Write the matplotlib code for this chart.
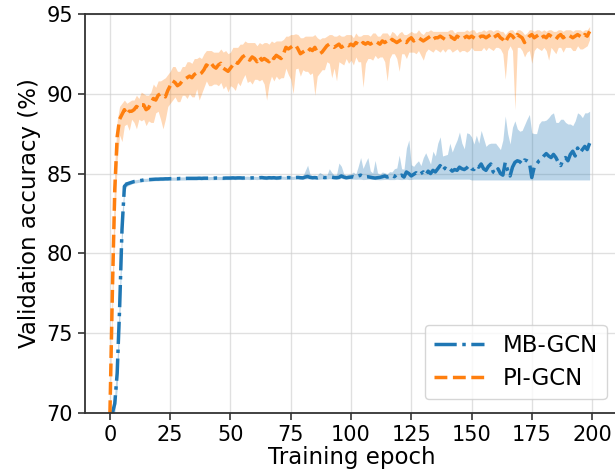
import numpy as np
import matplotlib
matplotlib.use("Agg")
import matplotlib.pyplot as plt

# validation accuracy per epoch (mean over runs) and band gaps below / above the mean
epochs = np.arange(200)

pi_mean = [
    70.0, 77.5, 84.0, 87.3, 88.4, 88.7, 89.0, 88.7, 88.9, 88.9,
    89.0, 89.2, 89.1, 89.3, 89.3, 89.0, 89.1, 89.4, 89.7, 89.6,
    89.9, 90.0, 89.9, 89.8, 90.2, 90.5, 90.8, 90.7, 90.5, 90.6,
    90.8, 90.9, 91.0, 91.1, 91.0, 91.2, 91.3, 91.2, 91.3, 91.5,
    91.8, 91.7, 91.9, 91.7, 91.6, 91.8, 91.9, 91.6, 91.5, 91.4,
    91.6, 91.8, 92.0, 91.9, 92.1, 92.3, 92.4, 92.2, 92.1, 92.3,
    92.2, 92.0, 92.3, 92.1, 92.2, 92.1, 92.0, 92.3, 92.2, 92.4,
    92.3, 92.2, 92.5, 92.9, 92.8, 92.9, 93.0, 93.05, 92.8, 92.5,
    92.6, 92.7, 92.6, 92.8, 92.7, 92.9, 92.6, 92.5, 92.6, 92.8,
    93.0, 93.1, 93.0, 92.9, 93.0, 93.1, 92.9, 93.0, 93.1, 93.0,
    93.1, 93.0, 93.2, 93.1, 93.0, 93.2, 93.1, 93.2, 93.1, 93.2,
    93.3, 93.2, 93.1, 93.3, 93.2, 93.3, 93.2, 93.4, 93.3, 93.2,
    93.3, 93.4, 93.3, 93.2, 93.4, 93.5, 93.3, 93.4, 93.5, 93.4,
    93.3, 93.4, 93.5, 93.6, 93.4, 93.5, 93.5, 93.6, 93.5, 93.4,
    93.5, 93.6, 93.5, 93.4, 93.6, 93.5, 93.4, 93.5, 93.6, 93.5,
    93.6, 93.5, 93.4, 93.5, 93.6, 93.6, 93.5, 93.6, 93.7, 93.5,
    93.6, 93.7, 93.5, 93.4, 93.2, 93.5, 93.7, 93.6, 93.4, 93.7,
    93.6, 93.5, 93.2, 93.4, 93.6, 93.7, 93.5, 93.6, 93.7, 93.5,
    93.6, 93.5, 93.7, 93.6, 93.5, 93.4, 93.6, 93.7, 93.5, 93.6,
    93.7, 93.6, 93.5, 93.6, 93.7, 93.6, 93.5, 93.7, 93.6, 93.9,
]
pi_lo_gap = [
    0.3, 1.5, 2.5, 1.5, 1.0, 1.7, 1.0, 0.6, 1.2, 0.5,
    0.8, 1.4, 0.7, 1.0, 0.9, 1.0, 0.8, 1.2, 1.5, 0.8,
    1.0, 1.6, 2.1, 1.4, 1.0, 1.1, 1.2, 0.9, 1.0, 1.1,
    0.9, 1.0, 1.3, 1.1, 1.2, 1.4, 1.0, 1.6, 1.3, 1.1,
    1.0, 1.2, 1.4, 1.1, 1.0, 1.3, 1.2, 1.3, 1.0, 1.3,
    1.1, 1.4, 1.8, 1.2, 1.6, 1.4, 1.2, 1.5, 1.3, 1.7,
    1.3, 1.1, 1.5, 1.2, 1.6, 2.5, 1.4, 1.2, 1.4, 1.3,
    1.4, 1.2, 1.5, 1.3, 1.6, 2.0, 3.0, 1.5, 1.2, 1.4,
    1.1, 1.3, 1.2, 1.6, 1.4, 3.0, 1.5, 1.2, 1.1, 1.3,
    1.0, 1.2, 2.0, 1.3, 2.2, 1.1, 1.0, 1.2, 0.9, 1.1,
    1.0, 1.2, 0.9, 1.1, 1.0, 2.8, 1.2, 1.0, 0.9, 1.1,
    0.9, 1.0, 0.8, 1.0, 1.2, 2.5, 1.0, 0.9, 0.8, 1.0,
    1.9, 0.9, 0.8, 1.0, 0.8, 0.9, 0.7, 0.9, 0.8, 1.0,
    1.2, 0.8, 0.7, 0.9, 0.8, 0.7, 0.8, 1.0, 0.7, 0.8,
    0.7, 0.8, 0.9, 0.7, 0.8, 0.9, 0.7, 0.8, 1.0, 0.8,
    0.7, 0.8, 0.7, 0.8, 0.9, 0.7, 0.8, 0.7, 0.9, 0.8,
    0.7, 0.8, 0.7, 0.9, 2.3, 0.8, 0.7, 0.9, 4.4, 0.8,
    0.7, 0.8, 0.9, 0.8, 0.9, 1.8, 0.8, 0.7, 0.9, 0.8,
    0.7, 0.8, 1.6, 0.7, 0.8, 0.9, 0.7, 0.8, 0.9, 0.7,
    0.8, 0.7, 0.8, 0.9, 0.7, 0.8, 0.7, 0.8, 0.6, 0.5,
]
pi_hi_gap = [
    0.3, 1.2, 1.6, 1.0, 0.8, 0.7, 0.6, 0.7, 0.6, 0.7,
    0.6, 0.7, 0.6, 0.8, 0.7, 0.9, 0.8, 0.7, 0.9, 0.8,
    0.9, 0.8, 1.0, 1.2, 1.0, 0.9, 0.9, 1.0, 0.9, 0.8,
    0.9, 0.8, 1.0, 0.9, 0.9, 1.0, 0.9, 1.1, 0.9, 1.0,
    0.9, 1.0, 0.8, 0.9, 1.0, 0.8, 0.9, 1.0, 1.2, 1.1,
    1.0, 1.1, 0.9, 1.0, 1.0, 0.8, 0.9, 1.0, 1.1, 0.9,
    1.0, 1.0, 0.9, 1.0, 1.0, 1.1, 1.1, 1.0, 1.0, 0.9,
    1.0, 1.1, 0.9, 0.7, 0.8, 0.8, 0.7, 0.7, 0.9, 1.0,
    0.9, 0.9, 1.0, 0.8, 0.9, 0.8, 0.9, 0.9, 0.9, 0.7,
    0.6, 0.6, 0.7, 0.7, 0.6, 0.6, 0.7, 0.6, 0.6, 0.7,
    0.6, 0.5, 0.6, 0.5, 0.6, 0.5, 0.6, 0.5, 0.5, 0.6,
    0.5, 0.4, 0.5, 0.5, 0.6, 0.5, 0.4, 0.5, 0.5, 0.4,
    0.5, 0.5, 0.4, 0.5, 0.4, 0.4, 0.5, 0.4, 0.5, 0.4,
    0.4, 0.5, 0.4, 0.4, 0.5, 0.4, 0.4, 0.3, 0.4, 0.5,
    0.4, 0.4, 0.5, 0.4, 0.3, 0.4, 0.5, 0.4, 0.4, 0.4,
    0.4, 0.5, 0.4, 0.4, 0.3, 0.4, 0.4, 0.4, 0.3, 0.4,
    0.4, 0.3, 0.4, 0.5, 0.5, 0.4, 0.3, 0.4, 0.4, 0.3,
    0.4, 0.4, 0.5, 0.4, 0.4, 0.3, 0.4, 0.4, 0.3, 0.4,
    0.4, 0.4, 0.3, 0.4, 0.4, 0.5, 0.4, 0.3, 0.4, 0.4,
    0.3, 0.4, 0.4, 0.4, 0.3, 0.4, 0.4, 0.3, 0.4, 0.3,
]

mb_mean = [
    69.8, 70.0, 70.6, 72.5, 76.5, 81.5, 84.2, 84.35, 84.4, 84.45,
    84.5, 84.52, 84.55, 84.57, 84.6, 84.6, 84.62, 84.63, 84.64, 84.65,
    84.65, 84.66, 84.66, 84.67, 84.67, 84.68, 84.68, 84.68, 84.68, 84.69,
    84.69, 84.69, 84.7, 84.7, 84.7, 84.7, 84.7, 84.71, 84.7, 84.71,
    84.71, 84.71, 84.72, 84.71, 84.72, 84.72, 84.72, 84.71, 84.72, 84.72,
    84.72, 84.73, 84.72, 84.73, 84.73, 84.72, 84.73, 84.74, 84.72, 84.73,
    84.73, 84.72, 84.74, 84.75, 84.73, 84.72, 84.74, 84.73, 84.74, 84.72,
    84.73, 84.75, 84.74, 84.73, 84.75, 84.74, 84.73, 84.75, 84.76, 84.74,
    84.73, 84.78, 84.82, 84.76, 84.74, 84.75, 84.73, 84.77, 84.78, 84.75,
    84.76, 84.8, 84.77, 84.75, 84.74, 84.76, 84.85, 84.78, 84.74, 84.76,
    84.78, 84.8, 84.76, 84.85, 84.9, 84.82, 84.78, 84.8, 84.77, 84.74,
    84.72, 84.74, 84.76, 84.8, 84.85, 84.78, 84.82, 84.9, 84.8, 84.95,
    84.85, 84.9, 84.78, 85.1, 85.0, 84.85, 84.95, 85.05, 84.9, 85.0,
    85.1, 84.9, 85.15, 85.0, 85.2, 85.1, 85.3, 85.5, 85.2, 85.35,
    85.2, 85.3, 85.15, 85.25, 85.2, 85.4, 85.3, 85.25, 85.35, 85.5,
    85.3, 85.25, 85.5, 85.4, 85.6, 85.3, 85.2, 85.45, 85.6, 85.1,
    85.0, 85.3, 85.0, 84.9, 85.7, 85.2, 84.85, 85.4, 85.7, 85.8,
    85.75, 85.6, 85.85, 85.8, 85.7, 84.75, 85.4, 85.6, 85.8, 85.9,
    86.1, 86.25, 86.1, 86.0, 86.2, 86.0, 85.7, 85.5, 85.9, 86.0,
    85.8, 86.2, 86.4, 86.1, 86.6, 86.3, 86.5, 86.7, 86.5, 86.9,
]
mb_lo_gap = [
    0.1, 0.3, 0.6, 1.0, 1.2, 1.0, 0.3, 0.15, 0.12, 0.1,
    0.1, 0.1, 0.1, 0.1, 0.1, 0.1, 0.1, 0.1, 0.1, 0.1,
    0.1, 0.1, 0.1, 0.1, 0.1, 0.1, 0.1, 0.1, 0.1, 0.1,
    0.1, 0.1, 0.1, 0.1, 0.1, 0.1, 0.1, 0.1, 0.1, 0.1,
    0.1, 0.1, 0.1, 0.1, 0.1, 0.1, 0.1, 0.1, 0.1, 0.1,
    0.1, 0.1, 0.1, 0.1, 0.1, 0.1, 0.1, 0.1, 0.1, 0.1,
    0.1, 0.1, 0.1, 0.1, 0.1, 0.1, 0.1, 0.1, 0.1, 0.1,
    0.1, 0.1, 0.1, 0.1, 0.1, 0.1, 0.1, 0.1, 0.1, 0.1,
    0.1, 0.12, 0.15, 0.1, 0.1, 0.1, 0.1, 0.12, 0.12, 0.1,
    0.1, 0.12, 0.1, 0.1, 0.1, 0.1, 0.15, 0.12, 0.1, 0.1,
    0.12, 0.15, 0.12, 0.2, 0.25, 0.2, 0.15, 0.15, 0.12, 0.1,
    0.1, 0.12, 0.15, 0.18, 0.22, 0.15, 0.2, 0.28, 0.18, 0.3,
    0.22, 0.28, 0.15, 0.45, 0.38, 0.22, 0.3, 0.4, 0.25, 0.35,
    0.45, 0.25, 0.5, 0.35, 0.55, 0.45, 0.65, 0.85, 0.55, 0.7,
    0.55, 0.65, 0.5, 0.6, 0.55, 0.75, 0.65, 0.6, 0.7, 0.85,
    0.7, 0.65, 0.9, 0.8, 1.0, 0.7, 0.6, 0.85, 1.0, 0.5,
    0.4, 0.7, 0.4, 0.3, 1.1, 0.6, 0.25, 0.8, 1.1, 1.2,
    1.15, 1.0, 1.25, 1.2, 1.1, 0.15, 0.8, 1.0, 1.2, 1.3,
    1.5, 1.65, 1.5, 1.4, 1.6, 1.4, 1.1, 0.9, 1.3, 1.4,
    1.2, 1.6, 1.8, 1.5, 2.0, 1.7, 1.9, 2.1, 1.9, 2.3,
]
mb_hi_gap = [
    0.2, 0.3, 0.6, 1.0, 1.2, 1.0, 0.3, 0.15, 0.12, 0.1,
    0.1, 0.1, 0.1, 0.1, 0.1, 0.1, 0.1, 0.1, 0.1, 0.1,
    0.1, 0.1, 0.1, 0.1, 0.1, 0.1, 0.1, 0.1, 0.1, 0.1,
    0.1, 0.1, 0.1, 0.1, 0.1, 0.1, 0.1, 0.1, 0.1, 0.1,
    0.1, 0.1, 0.1, 0.1, 0.1, 0.1, 0.1, 0.1, 0.1, 0.1,
    0.1, 0.1, 0.1, 0.1, 0.1, 0.1, 0.1, 0.1, 0.1, 0.1,
    0.1, 0.1, 0.1, 0.1, 0.1, 0.1, 0.1, 0.1, 0.1, 0.1,
    0.1, 0.1, 0.1, 0.1, 0.1, 0.1, 0.1, 0.1, 0.1, 0.1,
    0.1, 0.4, 0.7, 0.2, 0.1, 0.1, 0.15, 0.3, 0.2, 0.1,
    0.15, 0.5, 0.3, 0.15, 0.2, 0.9, 0.6, 0.2, 0.15, 0.2,
    0.2, 0.3, 0.2, 0.6, 1.1, 0.5, 0.9, 1.2, 0.4, 0.3,
    1.1, 0.3, 0.2, 0.3, 0.2, 0.2, 0.3, 0.2, 0.5, 0.4,
    1.3, 0.4, 0.5, 1.5, 2.1, 0.7, 0.5, 0.6, 0.9, 0.5,
    0.9, 1.4, 0.8, 0.6, 1.2, 1.0, 1.6, 1.8, 0.9, 0.8,
    1.0, 1.6, 1.2, 1.5, 1.9, 2.2, 1.6, 1.3, 2.2, 2.0,
    2.0, 1.6, 1.9, 1.5, 2.1, 1.9, 1.5, 1.4, 1.3, 1.8,
    1.9, 1.4, 1.5, 2.2, 2.9, 2.3, 2.0, 2.5, 2.6, 2.0,
    1.9, 2.1, 2.2, 2.6, 3.0, 2.8, 2.1, 1.9, 2.3, 2.4,
    2.2, 2.1, 2.4, 2.7, 2.6, 2.2, 2.5, 2.9, 2.5, 2.2,
    2.3, 1.9, 1.6, 2.2, 2.2, 2.4, 2.0, 2.1, 2.3, 2.0,
]

x_ticks = [0, 25, 50, 75, 100, 125, 150, 175, 200]
y_ticks = [70, 75, 80, 85, 90, 95]

pi_mean = np.array(pi_mean)
mb_mean = np.array(mb_mean)

fig = plt.figure(figsize=(6.15, 4.76), dpi=100)
ax = fig.add_axes([0.138, 0.132, 0.867, 0.839])

blue = "#1f77b4"
orange = "#ff7f0e"

ax.fill_between(epochs, mb_mean - np.array(mb_lo_gap), mb_mean + np.array(mb_hi_gap),
                color=blue, alpha=0.3, linewidth=0)
ax.fill_between(epochs, pi_mean - np.array(pi_lo_gap), pi_mean + np.array(pi_hi_gap),
                color=orange, alpha=0.3, linewidth=0)
ax.plot(epochs, mb_mean, color=blue, linestyle="-.", linewidth=2.5, label="MB-GCN")
ax.plot(epochs, pi_mean, color=orange, linestyle="--", linewidth=2.5, label="PI-GCN")

ax.set_xlim(-10.4, 210.8)
ax.set_ylim(70, 95)
ax.set_xticks(x_ticks)
ax.set_yticks(y_ticks)
ax.tick_params(labelsize=15, length=5, width=1.2, color="#333333")
ax.grid(True, color="#cccccc", linewidth=1, alpha=0.6)
ax.set_axisbelow(True)
for s in ax.spines.values():
    s.set_color("#333333")
    s.set_linewidth(1.3)

ax.set_xlabel("Training epoch", fontsize=16.5, labelpad=1)
ax.set_ylabel("Validation accuracy (%)", fontsize=16.5, labelpad=4)

ax.legend(loc="lower right", fontsize=16.5, handlelength=2.2, borderpad=0.4,
          labelspacing=0.45, borderaxespad=0, bbox_to_anchor=(0.979, 0.035))

fig.savefig("out.png", dpi=100)
